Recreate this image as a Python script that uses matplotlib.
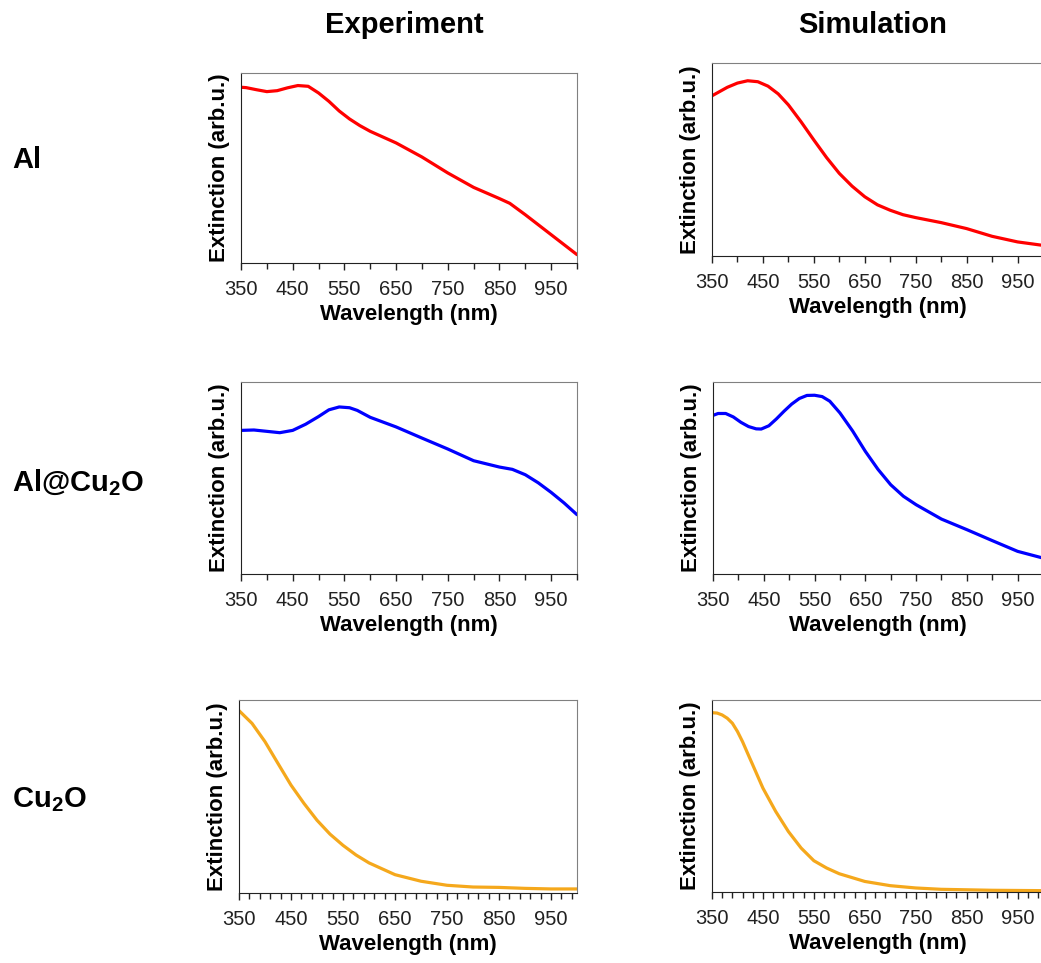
import matplotlib
matplotlib.use('Agg')
import matplotlib.pyplot as plt
import numpy as np

plt.rcParams['font.family'] = 'Liberation Sans'
plt.rcParams['mathtext.fontset'] = 'custom'
plt.rcParams['mathtext.rm'] = 'Liberation Sans'
plt.rcParams['mathtext.bf'] = 'Liberation Sans:bold'

# ---- data (normalised extinction) ----
al_exp_wl = [350, 360, 380, 400, 420, 440, 460, 480, 500, 520, 540, 560, 580, 600, 650, 700, 750, 800, 850, 870, 900, 950, 1000]
al_exp = [0.925, 0.923, 0.912, 0.902, 0.907, 0.922, 0.934, 0.930, 0.895, 0.851, 0.800, 0.758, 0.723, 0.693, 0.632, 0.558, 0.474, 0.398, 0.339, 0.314, 0.254, 0.149, 0.044]

al_sim_wl = [350, 365, 380, 400, 420, 440, 460, 480, 500, 525, 550, 575, 600, 625, 650, 675, 700, 725, 750, 800, 850, 900, 950, 1000]
al_sim = [0.830, 0.852, 0.874, 0.896, 0.908, 0.903, 0.880, 0.840, 0.783, 0.695, 0.601, 0.510, 0.428, 0.362, 0.307, 0.265, 0.237, 0.214, 0.199, 0.173, 0.142, 0.102, 0.073, 0.055]

alcu_exp_wl = [350, 375, 400, 425, 450, 475, 500, 520, 540, 560, 575, 600, 650, 700, 750, 800, 850, 875, 900, 925, 950, 975, 1000]
alcu_exp = [0.748, 0.750, 0.743, 0.736, 0.748, 0.780, 0.820, 0.855, 0.870, 0.866, 0.852, 0.816, 0.766, 0.708, 0.651, 0.590, 0.557, 0.545, 0.517, 0.475, 0.425, 0.370, 0.309]

alcu_sim_wl = [350, 360, 375, 390, 405, 420, 435, 445, 460, 475, 490, 505, 520, 535, 550, 565, 580, 600, 625, 650, 675, 700, 725, 750, 800, 850, 900, 950, 1000]
alcu_sim = [0.826, 0.836, 0.836, 0.818, 0.790, 0.768, 0.756, 0.755, 0.772, 0.808, 0.848, 0.885, 0.914, 0.930, 0.931, 0.924, 0.900, 0.839, 0.745, 0.639, 0.545, 0.465, 0.405, 0.361, 0.286, 0.231, 0.174, 0.118, 0.083]

cu_exp_wl = [350, 375, 400, 425, 450, 475, 500, 525, 550, 575, 600, 650, 700, 750, 800, 850, 900, 950, 1000]
cu_exp = [0.945, 0.879, 0.784, 0.671, 0.559, 0.464, 0.377, 0.305, 0.247, 0.197, 0.156, 0.095, 0.061, 0.040, 0.031, 0.029, 0.024, 0.021, 0.021]

cu_sim_wl = [350, 360, 370, 380, 390, 400, 410, 420, 430, 450, 475, 500, 525, 550, 575, 600, 650, 700, 750, 800, 900, 1000]
cu_sim = [0.934, 0.932, 0.922, 0.905, 0.879, 0.836, 0.783, 0.722, 0.662, 0.541, 0.420, 0.315, 0.229, 0.163, 0.125, 0.095, 0.055, 0.033, 0.021, 0.014, 0.009, 0.007]

col_titles = ['Experiment', 'Simulation']
row_labels = ['Al', r'Al@Cu$_\mathbf{2}$O', r'Cu$_\mathbf{2}$O']
xticks = [350, 450, 550, 650, 750, 850, 950]

fig = plt.figure(figsize=(10.41, 9.63), dpi=100)

W, H = 1041.0, 963.0
def rect(l, t, r, b):
    return [l / W, 1 - b / H, (r - l) / W, (b - t) / H]

panels = [
    (rect(241, 73, 577, 263), al_exp_wl, al_exp, '#ff0000', 50),
    (rect(712, 63, 1043, 256), al_sim_wl, al_sim, '#ff0000', 50),
    (rect(241, 382, 577, 574), alcu_exp_wl, alcu_exp, '#0000ff', 50),
    (rect(713, 382, 1043, 574), alcu_sim_wl, alcu_sim, '#0000ff', 50),
    (rect(239, 700, 577, 893), cu_exp_wl, cu_exp, '#f5a81c', 20),
    (rect(712, 700, 1043, 892), cu_sim_wl, cu_sim, '#f5a81c', 20),
]

for r, x, y, c, minor in panels:
    ax = fig.add_axes(r)
    ax.plot(x, y, color=c, lw=2.3, solid_capstyle='round', solid_joinstyle='round')
    ax.set_xlim(350, 1000)
    ax.set_ylim(0, 1)
    ax.set_xticks(xticks)
    ax.set_xticks(np.arange(350, 1001, minor), minor=True)
    ax.set_yticks([])
    ax.tick_params(axis='x', which='major', length=5, width=1, labelsize=14.5, pad=7, colors='#222222')
    ax.tick_params(axis='x', which='minor', length=4, width=1, colors='#222222')
    for s in ['left', 'bottom']:
        ax.spines[s].set_color('#222222')
    for s in ['top', 'right']:
        ax.spines[s].set_color('#808080')
    ax.set_xlabel('Wavelength (nm)', fontsize=16, fontweight='bold', labelpad=4)
    ax.set_ylabel('Extinction (arb.u.)', fontsize=16, fontweight='bold', labelpad=8)

fig.text(404 / W, 1 - 25 / H, col_titles[0], ha='center', va='center', fontsize=21, fontweight='bold')
fig.text(873 / W, 1 - 25 / H, col_titles[1], ha='center', va='center', fontsize=21, fontweight='bold')
for lab, yy in zip(row_labels, [160, 483, 800]):
    fig.text(12 / W, 1 - yy / H, lab, ha='left', va='center', fontsize=21, fontweight='bold')

fig.savefig('out.png', dpi=100)
